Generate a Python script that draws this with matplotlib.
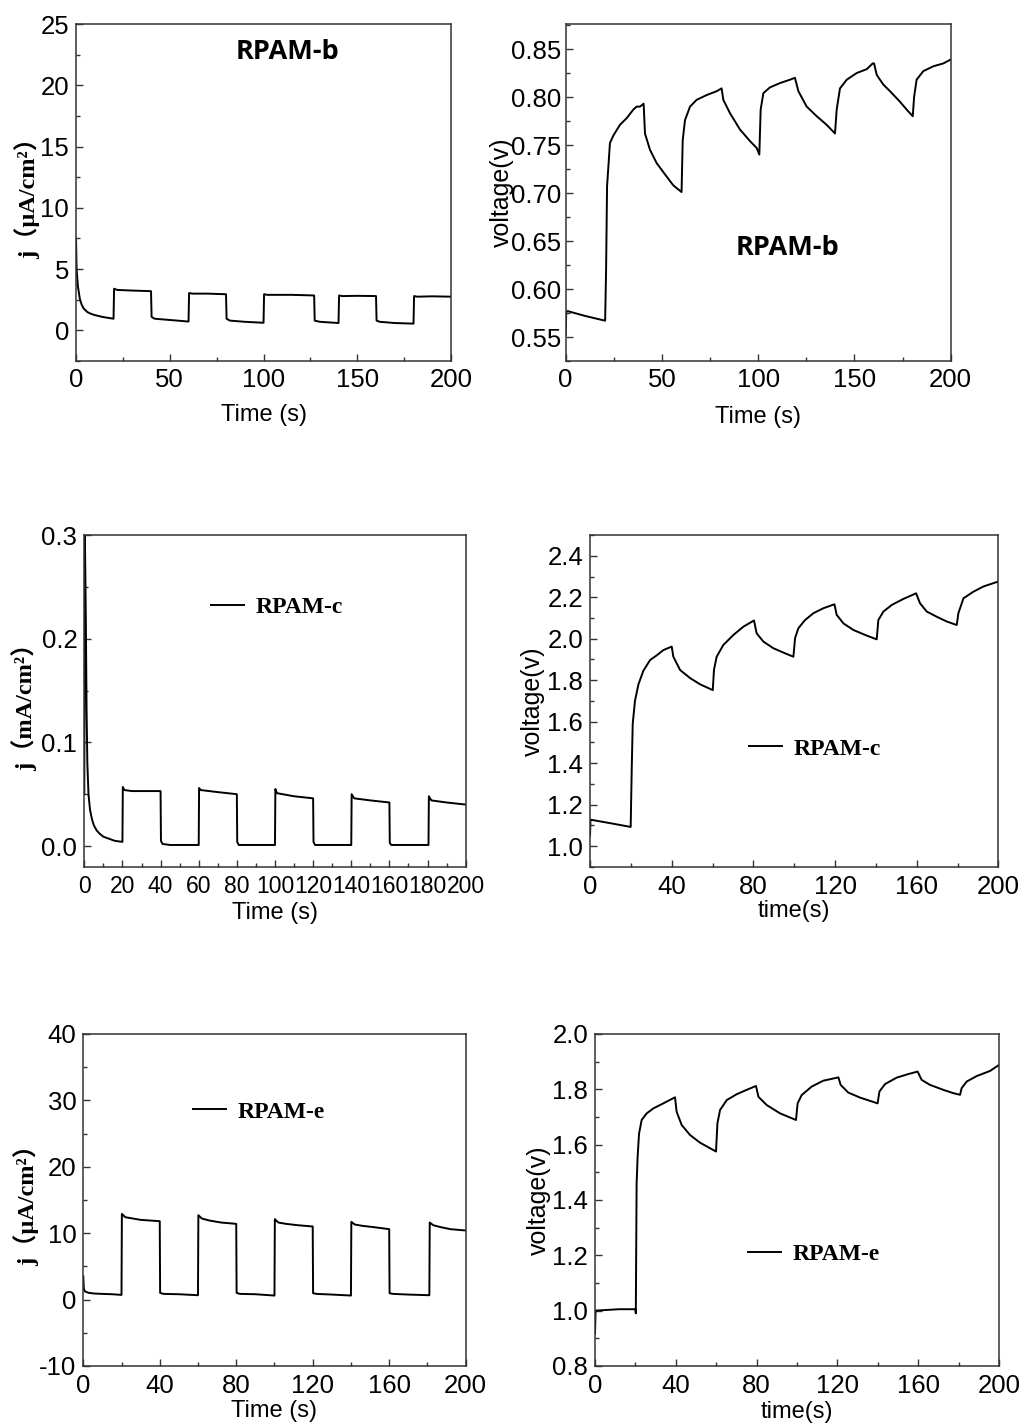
import matplotlib
matplotlib.use("Agg")
import matplotlib.pyplot as plt
from matplotlib.ticker import MultipleLocator, FormatStrFormatter

plt.rcParams['font.family'] = ['Liberation Sans', 'DejaVu Sans']
plt.rcParams['axes.unicode_minus'] = False

# ---- RPAM-b : photocurrent (uA/cm2) ----
t_b_cur = [0, 0.3, 1, 2, 3, 4, 6, 8, 10, 14, 20, 20.3, 22, 30, 40, 40.3, 42, 50, 60,
           60.3, 62, 70, 80, 80.3, 82, 90, 100, 100.3, 102, 115, 127, 127.3, 130, 140,
           140.3, 142, 150, 160, 160.3, 162, 170, 180, 180.3, 182, 190, 200]
j_b = [7.5, 5.0, 3.6, 2.6, 2.1, 1.8, 1.5, 1.35, 1.25, 1.1, 0.95, 3.4, 3.3, 3.25, 3.2,
       1.1, 0.95, 0.85, 0.72, 3.05, 3.0, 3.0, 2.95, 0.95, 0.8, 0.7, 0.62, 2.95, 2.9,
       2.9, 2.85, 0.8, 0.7, 0.6, 2.85, 2.8, 2.82, 2.8, 0.8, 0.7, 0.6, 0.55, 2.8, 2.75,
       2.78, 2.75]

# ---- RPAM-b : voltage (V) ----
t_b_vol = [0, 0.3, 1, 10, 20.5, 21, 21.5, 23, 24.8, 28.2, 31.7, 35.2, 36.9, 38.6, 40.5,
           41.2, 43.8, 47.3, 52.5, 55.9, 60.2, 60.8, 62, 64.6, 68, 73.2, 78.4, 81, 81.9,
           85.4, 90.6, 95.8, 99.2, 100.6, 101.3, 102.7, 106.1, 111.3, 116.5, 119.1,
           120.9, 125.2, 130.4, 135.6, 139.9, 140.8, 142.5, 146, 151.2, 156.4, 159.5,
           160.2, 161.6, 165, 168.5, 173.7, 177.1, 180.3, 181, 182.3, 185.8, 191,
           196.2, 200]
v_b = [0.552, 0.576, 0.577, 0.572, 0.567, 0.62, 0.707, 0.752, 0.760, 0.771, 0.778,
       0.787, 0.790, 0.790, 0.793, 0.762, 0.745, 0.731, 0.717, 0.708, 0.701, 0.755,
       0.776, 0.790, 0.797, 0.802, 0.806, 0.809, 0.797, 0.783, 0.766, 0.754, 0.747,
       0.740, 0.787, 0.804, 0.810, 0.8145, 0.818, 0.820, 0.806, 0.790, 0.780, 0.771,
       0.762, 0.787, 0.809, 0.818, 0.825, 0.829, 0.835, 0.835, 0.823, 0.813, 0.806,
       0.795, 0.787, 0.780, 0.800, 0.818, 0.827, 0.832, 0.835, 0.839]

# ---- RPAM-c : photocurrent (mA/cm2) ----
t_c_cur = [0, 0.3, 0.8, 1.2, 1.6, 2.2, 3, 4, 5, 6.5, 8, 10, 13, 16, 20, 20.2, 21, 25,
           30, 40, 40.2, 41, 45, 50, 60, 60.2, 61, 70, 80, 80.2, 81, 90, 100, 100.2,
           101, 110, 120, 120.2, 121, 130, 140, 140.2, 141.5, 150, 160, 160.2, 161,
           170, 180.5, 180.7, 182, 190, 200]
j_c = [0.05, 0.3, 0.22, 0.13, 0.08, 0.05, 0.035, 0.026, 0.02, 0.015, 0.012, 0.009,
       0.007, 0.005, 0.004, 0.057, 0.054, 0.053, 0.053, 0.053, 0.005, 0.002, 0.001,
       0.001, 0.001, 0.056, 0.054, 0.052, 0.050, 0.004, 0.001, 0.001, 0.001, 0.055,
       0.051, 0.048, 0.046, 0.004, 0.001, 0.001, 0.001, 0.050, 0.046, 0.044, 0.042,
       0.003, 0.001, 0.001, 0.001, 0.048, 0.044, 0.042, 0.040]

# ---- RPAM-c : voltage (V) ----
t_c_vol = [0, 0.2, 10, 19.9, 20.4, 20.9, 22, 23.7, 26.1, 29.4, 32.7, 35.9, 40, 40.8,
           44.1, 49, 53.9, 60.1, 60.7, 62, 65.3, 70.2, 75.1, 80.3, 81.6, 84.9, 89.8,
           94.7, 99.6, 100.4, 102, 105.3, 109.4, 114.3, 119.7, 120.8, 124.1, 129,
           135.5, 140.4, 141.2, 143.7, 147.8, 153.5, 159.7, 161.6, 164.9, 169.8,
           174.7, 179.6, 180.4, 182.9, 187.8, 192.7, 200]
v_c = [1.05, 1.127, 1.11, 1.092, 1.366, 1.59, 1.70, 1.78, 1.845, 1.897, 1.92, 1.945,
       1.962, 1.913, 1.849, 1.81, 1.78, 1.752, 1.85, 1.913, 1.97, 2.018, 2.058, 2.088,
       2.026, 1.986, 1.954, 1.933, 1.913, 2.002, 2.05, 2.09, 2.123, 2.147, 2.166,
       2.115, 2.074, 2.042, 2.015, 1.997, 2.09, 2.131, 2.163, 2.192, 2.219, 2.171,
       2.131, 2.106, 2.083, 2.066, 2.123, 2.195, 2.227, 2.252, 2.276]

# ---- RPAM-e : photocurrent (uA/cm2) ----
t_e_cur = [0, 0.3, 1, 3, 6, 10, 15, 20, 20.2, 22, 26, 30, 35, 40, 40.2, 42, 50, 60,
           60.2, 62, 66, 72, 80, 80.2, 82, 90, 100, 100.2, 102, 106, 112, 120, 120.2,
           122, 130, 140, 140.2, 142, 146, 152, 160, 160.2, 162, 170, 181, 181.2, 183,
           187, 192, 200]
j_e = [3.5, 1.6, 1.2, 1.0, 0.9, 0.85, 0.8, 0.7, 12.9, 12.4, 12.2, 12.0, 11.9, 11.8,
       1.0, 0.85, 0.8, 0.65, 12.7, 12.2, 11.9, 11.6, 11.4, 1.0, 0.85, 0.8, 0.6, 12.1,
       11.6, 11.4, 11.2, 11.0, 0.95, 0.85, 0.75, 0.6, 11.7, 11.3, 11.1, 10.9, 10.6,
       0.95, 0.85, 0.75, 0.65, 11.6, 11.2, 10.9, 10.6, 10.4]

# ---- RPAM-e : voltage (V) ----
t_e_vol = [0, 0.3, 5, 12, 20, 20.2, 20.6, 21.1, 21.8, 23.1, 25.6, 28.9, 33.8, 39.6,
           40.4, 42.9, 47, 52, 59.9, 60.6, 61.9, 65.2, 70.1, 75.1, 79.7, 80.9, 85, 91.6,
           99.5, 100.3, 102.3, 107.3, 113, 120.5, 121.6, 125.4, 131.2, 139.9, 140.8,
           143.6, 149.3, 155.1, 159.7, 161.7, 165.8, 172.4, 177.4, 180.7, 181.5, 184,
           189, 195.5, 200]
v_e = [0.918, 1.0, 1.002, 1.005, 1.005, 0.99, 1.46, 1.557, 1.64, 1.689, 1.713, 1.731,
       1.749, 1.771, 1.719, 1.671, 1.635, 1.607, 1.575, 1.677, 1.725, 1.761, 1.782,
       1.798, 1.812, 1.773, 1.743, 1.713, 1.689, 1.749, 1.779, 1.81, 1.831, 1.843,
       1.816, 1.788, 1.770, 1.749, 1.792, 1.819, 1.842, 1.855, 1.864, 1.834, 1.816,
       1.798, 1.786, 1.780, 1.804, 1.828, 1.848, 1.866, 1.888]

TICK_FS = 18.5
LABEL_FS = 17
VLABEL_FS = 18
serif_bold = dict(family=['Liberation Serif', 'Noto Sans CJK SC'], weight='bold', size=17.5)

fig = plt.figure(figsize=(10.33, 14.23), dpi=100)

ax1 = fig.add_axes([0.0736, 0.7463, 0.3630, 0.2368])
ax2 = fig.add_axes([0.5476, 0.7463, 0.3727, 0.2368])
ax3 = fig.add_axes([0.0816, 0.3909, 0.3692, 0.2331])
ax4 = fig.add_axes([0.5712, 0.3909, 0.3953, 0.2331])
ax5 = fig.add_axes([0.0806, 0.0401, 0.3702, 0.2333])
ax6 = fig.add_axes([0.5760, 0.0401, 0.3911, 0.2333])


def style(ax, xmaj, xmin, ymaj, ymin, xpad=6, ypad=5):
    ax.set_xlim(0, 200)
    ax.xaxis.set_major_locator(MultipleLocator(xmaj))
    ax.xaxis.set_minor_locator(MultipleLocator(xmin))
    ax.yaxis.set_major_locator(MultipleLocator(ymaj))
    ax.yaxis.set_minor_locator(MultipleLocator(ymin))
    ax.tick_params(which='both', direction='in', top=False, right=False,
                   color='#333333', width=1.0)
    ax.tick_params(which='major', length=5, labelsize=TICK_FS)
    ax.tick_params(axis='x', which='major', pad=xpad)
    ax.tick_params(axis='y', which='major', pad=ypad)
    ax.tick_params(which='minor', length=3)
    for sp in ax.spines.values():
        sp.set_linewidth(1.1)
        sp.set_color('#333333')


line_kw = dict(color='black', lw=1.4)

# panel 1
ax1.plot(t_b_cur, j_b, **line_kw)
style(ax1, 50, 25, 5, 2.5, xpad=5)
ax1.set_ylim(-2.5, 25)
ax1.set_xlabel('Time (s)', fontsize=LABEL_FS, labelpad=9)
ax1.set_ylabel('j（μA/cm²）', fontdict=serif_bold, labelpad=0)
ax1.text(0.563, 0.917, 'RPAM-b', transform=ax1.transAxes, ha='center', va='center',
         family='Open Sans', weight='bold', fontsize=19.5)

# panel 2
ax2.plot(t_b_vol, v_b, **line_kw)
style(ax2, 50, 25, 0.05, 0.025, xpad=5, ypad=3)
ax2.set_ylim(0.525, 0.876)
ax2.yaxis.set_major_formatter(FormatStrFormatter('%.2f'))
ax2.set_xlabel('Time (s)', fontsize=LABEL_FS, labelpad=10)
ax2.set_ylabel('voltage(v)', fontsize=VLABEL_FS, labelpad=-2)
ax2.text(0.577, 0.335, 'RPAM-b', transform=ax2.transAxes, ha='center', va='center',
         family='Open Sans', weight='bold', fontsize=19.5)

# panel 3
ax3.plot(t_c_cur, j_c, label='RPAM-c', **line_kw)
style(ax3, 20, 10, 0.1, 0.05)
ax3.tick_params(axis='x', which='major', labelsize=16.5)
ax3.set_ylim(-0.02, 0.3)
ax3.yaxis.set_major_formatter(FormatStrFormatter('%.1f'))
ax3.set_xlabel('Time (s)', fontsize=LABEL_FS, labelpad=3)
ax3.set_ylabel('j（mA/cm²）', fontdict=serif_bold, labelpad=3)

# panel 4
ax4.plot(t_c_vol, v_c, label='RPAM-c', **line_kw)
style(ax4, 40, 20, 0.2, 0.1)
ax4.set_ylim(0.9, 2.5)
ax4.yaxis.set_major_formatter(FormatStrFormatter('%.1f'))
ax4.set_xlabel('time(s)', fontsize=LABEL_FS, labelpad=1)
ax4.set_ylabel('voltage(v)', fontsize=VLABEL_FS, labelpad=2)

# panel 5
ax5.plot(t_e_cur, j_e, label='RPAM-e', **line_kw)
style(ax5, 40, 20, 10, 5)
ax5.set_ylim(-10, 40)
ax5.set_xlabel('Time (s)', fontsize=LABEL_FS, labelpad=1)
ax5.set_ylabel('j（μA/cm²）', fontdict=serif_bold, labelpad=0)

# panel 6
ax6.plot(t_e_vol, v_e, label='RPAM-e', **line_kw)
style(ax6, 40, 20, 0.2, 0.1)
ax6.set_ylim(0.8, 2.0)
ax6.yaxis.set_major_formatter(FormatStrFormatter('%.1f'))
ax6.set_xlabel('time(s)', fontsize=LABEL_FS, labelpad=2)
ax6.set_ylabel('voltage(v)', fontsize=VLABEL_FS, labelpad=1)

leg_kw = dict(loc='center left', frameon=False, borderpad=0, borderaxespad=0,
              handlelength=1.4, handletextpad=0.5,
              prop=dict(family='Liberation Serif', weight='bold', size=17))
ax3.legend(bbox_to_anchor=(0.332, 0.783), **leg_kw)
ax4.legend(bbox_to_anchor=(0.389, 0.355), **leg_kw)
ax5.legend(bbox_to_anchor=(0.287, 0.765), **leg_kw)
ax6.legend(bbox_to_anchor=(0.379, 0.337), **leg_kw)

fig.savefig('out.png', dpi=100, facecolor='white')
